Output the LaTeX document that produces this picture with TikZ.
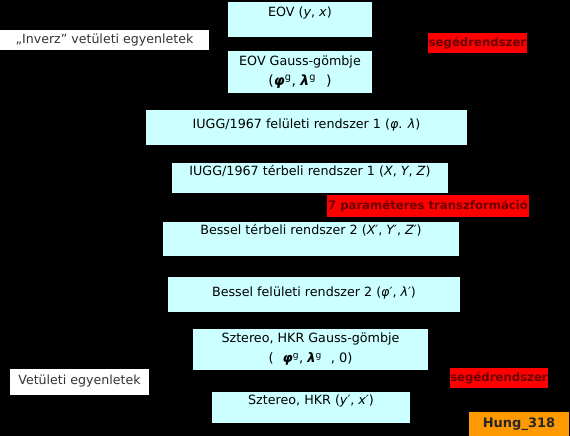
\documentclass[tikz,border=0pt]{standalone}
\usepackage{fontspec}
\setmainfont{DejaVu Sans}
\usetikzlibrary{positioning}
\definecolor{cbox}{RGB}{204,255,255}
\definecolor{rbox}{RGB}{255,0,0}
\definecolor{rtext}{RGB}{105,0,0}
\definecolor{obox}{RGB}{255,153,0}

\begin{document}
\begin{tikzpicture}[x=1pt,y=-1pt
  ,inner sep=0pt
  ,font=\fontsize{12.7}{15}\selectfont]
  \tikzstyle{sys}=[fill=cbox,align=center]
  \tikzstyle{tag}=[fill=rbox,text=rtext,font=\fontsize{11.7}{13}\selectfont\bfseries]
  \tikzstyle{note}=[fill=white,text=black!80,font=\fontsize{12.6}{15}\selectfont]

  \fill[black] (0,0) rectangle (570,436);
  \useasboundingbox (0,0) rectangle (570,436);

  % coordinate systems, top to bottom
  \node[sys,minimum width=144pt,minimum height=35pt
    ,text height=9pt,text depth=15pt] (eov) at (300,19.5)
    {EOV (\textit{y}, \textit{x})};
  \node[sys,minimum width=144pt,minimum height=42pt] (eovg) at (300,72)
    {EOV Gauss-gömbje\\[5pt]{\fontsize{14}{16}\selectfont
     (\textbf{\textit{φ}}\textsuperscript{g}, \textbf{\textit{λ}}\textsuperscript{g}\hspace{10pt})}};
  \node[sys,minimum width=321pt,minimum height=35pt
    ,text height=9pt,text depth=7pt] (iugf) at (306.5,127.5)
    {IUGG/1967 felületi rendszer 1 (\textit{φ}. \textit{λ})};
  \node[sys,minimum width=276pt,minimum height=30pt
    ,text height=9pt,text depth=14pt] (iugt) at (310,178)
    {IUGG/1967 térbeli rendszer 1 (\textit{X}, \textit{Y}, \textit{Z})};
  \node[sys,minimum width=296pt,minimum height=34pt
    ,text height=9pt,text depth=18pt] (best) at (311,239)
    {Bessel térbeli rendszer 2 (\textit{X′}, \textit{Y′}, \textit{Z′})};
  \node[sys,minimum width=292pt,minimum height=35pt
    ,text height=9pt,text depth=5pt] (besf) at (314,294.5)
    {Bessel felületi rendszer 2 (\textit{φ′}, \textit{λ′})};
  \node[sys,minimum width=235pt,minimum height=41pt] (sztg) at (310.5,349.5)
    {Sztereo, HKR Gauss-gömbje\\[5pt]{\fontsize{13}{15}\selectfont
     (\hspace{9pt}\textbf{\textit{φ}}\textsuperscript{g}, \textbf{\textit{λ}}\textsuperscript{g}\hspace{9pt}, 0)}};
  \node[sys,minimum width=198pt,minimum height=31pt
    ,text height=9pt,text depth=15pt] (hkr) at (311,407.5)
    {Sztereo, HKR (\textit{y′}, \textit{x′})};

  % labels
  \node[note,minimum width=209pt,minimum height=20pt] (inv) at (104.5,40)
    {„Inverz” vetületi egyenletek};
  \node[note,minimum width=139pt,minimum height=26pt
    ,text height=9pt,text depth=5pt] (vet) at (79.5,382)
    {Vetületi egyenletek};
  \node[tag,minimum width=99pt,minimum height=20pt] (seg1) at (477.5,43) {segédrendszer};
  \node[tag,minimum width=202pt,minimum height=22pt] (par) at (428,206)
    {7 paraméteres transzformáció};
  \node[tag,minimum width=96pt,minimum height=20pt] (seg2) at (499,378) {segédrendszer};
  \node[tag,fill=obox,text=black!85,font=\fontsize{13}{15}\selectfont\bfseries
    ,minimum width=100pt,minimum height=24pt] (hung)
    at (519,424) {Hung\_318};
\end{tikzpicture}
\end{document}
